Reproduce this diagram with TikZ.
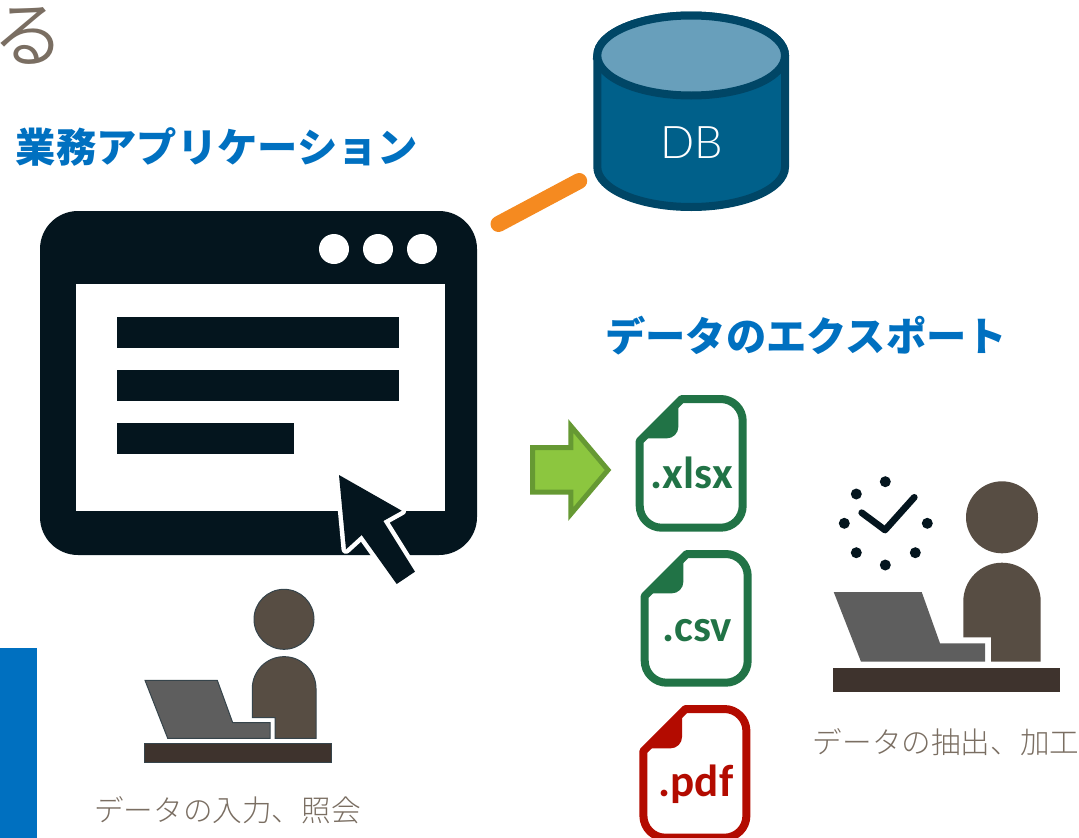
\documentclass[tikz,border=0pt]{standalone}
\usepackage{fontspec}
\setmainfont{Noto Sans CJK JP}
\newfontfamily\filefont{Carlito}
\newfontfamily\latinfont{Lato Light}
\definecolor{winblack}{HTML}{04151E}
\definecolor{blueacc}{HTML}{0070C0}
\definecolor{greytxt}{HTML}{7A6E62}
\definecolor{dbfill}{HTML}{00608A}
\definecolor{dbedge}{HTML}{004666}
\definecolor{dbtop}{HTML}{689FBB}
\definecolor{orangeline}{HTML}{F58A20}
\definecolor{arrowfill}{HTML}{8CC63F}
\definecolor{arrowedge}{HTML}{669933}
\definecolor{xlgreen}{HTML}{217346}
\definecolor{pdfred}{HTML}{B30B00}
\definecolor{personc}{HTML}{574D43}
\definecolor{laptopc}{HTML}{5E5E5E}
\definecolor{deskc}{HTML}{3E332D}
\tikzset{
  heading/.style={font=\fontsize{40.3}{41}\selectfont\bfseries,text=blueacc,inner sep=0pt},
  caption/.style={font=\fontsize{29.6}{30}\selectfont\fontspec{Noto Sans CJK JP Light},text=greytxt,inner sep=0pt},
  fileext/.style={font=\fontsize{45}{45}\selectfont\filefont\bfseries,inner sep=0pt,anchor=base},
  clockdot/.style={fill=winblack,draw=none},
  thinedge/.style={draw=winblack!80,line width=1pt}
}
\newcommand{\fileicon}[3]{%
  \begin{scope}[shift={(#1,#2)}]
    \draw[#3,line width=8pt,line join=round]
      (46,4) -- (85,4) arc[start angle=270,end angle=360,radius=22] -- (107,110.7)
      arc[start angle=0,end angle=90,radius=22] -- (26,132.7)
      arc[start angle=90,end angle=180,radius=22] -- (4,46) -- cycle;
    \fill[#3] (4,46) -- (46,4) -- (42.7,8) -- (42.7,31.7) arc[start angle=0,end angle=90,radius=11.7] -- (8,43.4) -- cycle;
  \end{scope}}
\begin{document}
\begin{tikzpicture}[x=1pt,y=-1pt]
\useasboundingbox (0,0) rectangle (1079,838);
% title fragment
\node[font=\fontsize{72}{72}\selectfont\fontspec{Noto Sans CJK JP DemiLight},text=greytxt,inner sep=0pt] (title) at (29,36) {る};
% headings
\node[heading] (apphead) at (217,147) {業務アプリケーション};
\node[heading] (exphead) at (806,336) {データのエクスポート};
% side bar
\fill[blueacc] (0,648) rectangle (37,838);
% database
\path[fill=dbfill,draw=dbedge,line width=8pt] (597.3,55.5) -- (597.3,167) arc[start angle=180,end angle=0,x radius=93.85,y radius=40] -- (785,55.5) arc[start angle=360,end angle=180,x radius=93.85,y radius=40] -- cycle;
\path[fill=dbtop,draw=dbedge,line width=8pt] (691.15,55.5) ellipse[x radius=93.85,y radius=40];
\node[font=\fontsize{45}{45}\selectfont\latinfont,text=white,inner sep=0pt] (db) at (692,143) {DB};
% connector
\coordinate (linea) at (498.5,224);
\coordinate (lineb) at (579.2,181);
\draw[orangeline,line width=16pt,line cap=round] (linea) -- (lineb);
% window
\fill[winblack,rounded corners=38pt] (40,211) rectangle (477,555);
\fill[white] (76,284) rectangle (445,511);
\foreach \x in {334,378,422} \fill[white] (\x,249) circle[radius=15];
\fill[winblack] (117,317) rectangle (399,348);
\fill[winblack] (117,370) rectangle (399,401);
\fill[winblack] (117,423) rectangle (294,454);
% cursor
\path[draw=white,line width=9pt,line join=round,fill=white] (339,475) -- (401.7,510.7) -- (383.3,521) -- (415,571.7) -- (396.7,584) -- (361.7,535) -- (346,549.3) -- cycle;
\fill[winblack] (339,475) -- (401.7,510.7) -- (383.3,521) -- (415,571.7) -- (396.7,584) -- (361.7,535) -- (346,549.3) -- cycle;
% green arrow
\path[fill=arrowfill,draw=arrowedge,line width=5pt,line join=miter] (532.5,447.5) -- (570.8,447.5) -- (570.8,426) -- (608,470) -- (570.8,514) -- (570.8,492) -- (532.5,492) -- cycle;
% files
\fileicon{635.7}{395}{xlgreen}
\fileicon{640.7}{550}{xlgreen}
\fileicon{639.4}{705}{pdfred}
\node[fileext,text=xlgreen] (xlsx) at (691.7,488.3) {.xlsx};
\node[fileext,text=xlgreen] (csv) at (697,641.7) {.csv};
\node[fileext,text=pdfred] (pdf) at (696,796.7) {.pdf};
% right person
\fill[personc] (1002,517.3) circle[radius=36];
\fill[personc] (963.3,637.3) -- (963.3,601.4) arc[start angle=180,end angle=360,radius=38.7] -- (1040.7,661.7) -- (991,661.7) -- (991,637.3) -- cycle;
\fill[laptopc] (833.7,592) -- (921.7,592) -- (940,643.3) -- (985,643.3) -- (985,661.7) -- (861,661.7) -- cycle;
\fill[deskc] (833,668) rectangle (1060,692);
% clock
\foreach \p in {(885.3,481.7),(885.3,565),(844.3,523.3),(927.3,523.3),(856.3,494),(856.3,552.7),(915.3,552.7)}
  \path[clockdot] \p circle[radius=5.5];
\draw[winblack,line width=6.7pt,line cap=round,line join=round] (861.7,512.7) -- (885,530) -- (914.3,497.3);
% left person
\path[fill=personc,thinedge] (284,619.3) circle[radius=30];
\path[fill=personc,thinedge] (252.3,717.7) -- (252.3,688.5) arc[start angle=180,end angle=360,radius=31.85] -- (316,738.3) -- (275,738.3) -- (275,717.7) -- cycle;
\path[fill=laptopc,thinedge] (145,680.3) -- (217.3,680.3) -- (232.7,722.7) -- (270,722.7) -- (270,738.3) -- (167.7,738.3) -- cycle;
\path[fill=deskc,thinedge] (144.3,743.3) rectangle (331.7,762.7);
% captions
\node[caption] (cap1) at (227.5,810) {データの入力、照会};
\node[caption] (cap2) at (946,742) {データの抽出、加工};
\end{tikzpicture}
\end{document}
